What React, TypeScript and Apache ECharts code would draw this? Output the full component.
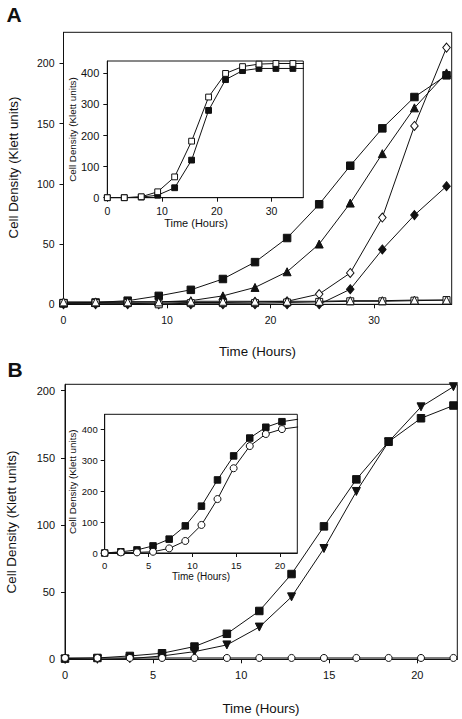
import React, { useEffect, useRef } from "react";
import * as echarts from "echarts";

// ---------- Panel A (main) ----------
const timeA = [0, 3.1, 6.2, 9.2, 12.3, 15.4, 18.5, 21.6, 24.7, 27.7, 30.8, 33.9, 37.0];
const aFilledSquare = [1, 1.5, 3, 7, 12, 21, 35, 55, 83, 115, 146, 172, 190];
const aFilledTriangle = [1, 1.5, 2, 2, 3, 7, 14, 27, 50, 84, 125, 163, 192];
const aOpenDiamond = [1, 1, 1, 1, 1.5, 1.5, 2, 2.5, 8.5, 26, 72, 148, 213];
const aFilledDiamond = [0, 0, 0, 0, 0, 0, 0, 0, 0, 12.5, 45.5, 74, 98];
const aOpenSquare = [1, 1, 1, 0, 1, 1, 1, 1.5, 2, 2.5, 2.5, 3, 3.5];
const aOpenTriangle = [2, 2, 2, 2, 2.5, 2.5, 2.5, 2.5, 2.5, 3, 3, 3.5, 3.5];

// ---------- Panel A (inset) ----------
const aInsetOpenSquare = [0, 0, 3, 19, 67, 182, 324, 400, 422, 430, 432, 432, 432];
const aInsetFilledSquare = [0, 0, 2, 8, 32, 121, 281, 380, 409, 416, 416, 416, 416];

// ---------- Panel B (main) ----------
const timeB = [0, 1.84, 3.68, 5.51, 7.35, 9.19, 11.03, 12.86, 14.7, 16.54, 18.37, 20.21, 22.05];
const bFilledSquare = [0.5, 1, 2.5, 4.5, 9.5, 19, 36, 63.5, 99, 134, 162, 179.5, 189];
const bInvTriangle = [0, 0, 0.5, 2.5, 5.7, 10.7, 24, 46.5, 82.5, 125, 162, 188, 203];
const bOpenCircle = [1, 1, 1, 1, 1, 1, 1, 1, 1, 1, 1, 1, 1];

// ---------- Panel B (inset) ----------
const bInsetFilledSquare = [0, 4, 10, 23, 45, 88, 152, 237, 315, 373, 408, 426, 434];
const bInsetOpenCircle = [0, 2, 2, 4, 15, 39, 91, 175, 275, 347, 386, 402, 409];

// ---------- Tick labels ----------
const ticksAx = [0, 10, 20, 30];
const ticksAy = [0, 50, 100, 150, 200];
const ticksAiy = [0, 100, 200, 300, 400];
const ticksBx = [0, 5, 10, 15, 20];
const ticksBy = [0, 50, 100, 150, 200];
const ticksBiy = [0, 100, 200, 300, 400];

const yTitle = "Cell Density (Klett units)";
const xTitle = "Time (Hours)";

const FONT = "'Liberation Sans', Arial, Helvetica, sans-serif";
const INK = "#111";

function zip(t: number[], v: number[]) {
  return v.map((y, i) => [t[i], y]);
}

function series(
  name: string,
  idx: number,
  t: number[],
  v: number[],
  symbol: string,
  size: number | number[],
  filled: boolean,
  rotate = 0
) {
  return {
    name,
    type: "line",
    xAxisIndex: idx,
    yAxisIndex: idx,
    data: zip(t, v),
    symbol,
    symbolSize: size,
    symbolRotate: rotate,
    showSymbol: true,
    clip: true,
    lineStyle: { color: INK, width: 1 },
    itemStyle: {
      color: filled ? INK : "#fff",
      borderColor: INK,
      borderWidth: 1,
    },
    emphasis: { disabled: true },
    z: 3,
  };
}

function xAxis(idx: number, max: number, ticks: number[], fontSize: number, margin: number) {
  return {
    type: "value",
    gridIndex: idx,
    min: 0,
    max,
    axisLine: { show: true, onZero: false, lineStyle: { color: INK, width: 1 } },
    axisTick: { show: true, length: 4, inside: false, customValues: ticks, lineStyle: { color: INK } },
    axisLabel: { customValues: ticks, fontSize, fontFamily: FONT, color: INK, margin },
    splitLine: { show: false },
  };
}

function yAxis(idx: number, max: number, ticks: number[], fontSize: number, margin: number) {
  return {
    type: "value",
    gridIndex: idx,
    min: 0,
    max,
    axisLine: { show: true, onZero: false, lineStyle: { color: INK, width: 1 } },
    axisTick: { show: true, length: 4, inside: false, customValues: ticks, lineStyle: { color: INK } },
    axisLabel: { customValues: ticks, fontSize, fontFamily: FONT, color: INK, margin },
    splitLine: { show: false },
  };
}

function label(text: string, x: number, y: number, fontSize: number, rotate = false, bold = false) {
  return {
    type: "text",
    x,
    y,
    rotation: rotate ? Math.PI / 2 : 0,
    z: 10,
    style: {
      text,
      fontSize,
      fontFamily: FONT,
      fontWeight: bold ? "bold" : "normal",
      fill: INK,
      align: "center",
      verticalAlign: "middle",
    },
  };
}

export default function App() {
  const ref = useRef<HTMLDivElement>(null);

  useEffect(() => {
    if (!ref.current) return;
    const chart = echarts.init(ref.current, undefined, { renderer: "svg" });
    const gridBase = { show: true, borderColor: INK, borderWidth: 1, backgroundColor: "#fff", containLabel: false };
    chart.setOption({
      animation: false,
      backgroundColor: "#fff",
      grid: [
        { ...gridBase, left: 63.5, top: 32.3, width: 388.2, height: 272 },
        { ...gridBase, left: 107.3, top: 61, width: 196, height: 136.7 },
        { ...gridBase, left: 65, top: 384.3, width: 392.3, height: 275 },
        { ...gridBase, left: 104.7, top: 414.3, width: 192.6, height: 138.7 },
      ],
      xAxis: [
        xAxis(0, 37.5, ticksAx, 10.5, 10),
        xAxis(1, 35.8, ticksAx, 10.5, 8),
        xAxis(2, 22.27, ticksBx, 11, 10),
        xAxis(3, 21.96, ticksBx, 9.5, 7.5),
      ],
      yAxis: [
        yAxis(0, 225.7, ticksAy, 10.5, 9),
        yAxis(1, 440, ticksAiy, 11, 8),
        yAxis(2, 204.8, ticksBy, 11, 10),
        yAxis(3, 450, ticksBiy, 9.5, 7),
      ],
      series: [
        series("A filled square", 0, timeA, aFilledSquare, "rect", 7.5, true),
        series("A filled triangle", 0, timeA, aFilledTriangle, "triangle", 8, true),
        series("A open diamond", 0, timeA, aOpenDiamond, "diamond", [7.5, 9], false),
        series("A filled diamond", 0, timeA, aFilledDiamond, "diamond", [7.5, 9], true),
        series("A open square", 0, timeA, aOpenSquare, "rect", 7, false),
        series("A open triangle", 0, timeA, aOpenTriangle, "triangle", 8, false),
        series("A inset filled square", 1, timeA, aInsetFilledSquare, "rect", 5.8, true),
        series("A inset open square", 1, timeA, aInsetOpenSquare, "rect", 5.8, false),
        series("B filled square", 2, timeB, bFilledSquare, "rect", 7.5, true),
        series("B inverted triangle", 2, timeB, bInvTriangle, "triangle", 8, true, 180),
        series("B open circle", 2, timeB, bOpenCircle, "circle", 7, false),
        series("B inset filled square", 3, timeB, bInsetFilledSquare, "rect", 6.5, true),
        series("B inset open circle", 3, timeB, bInsetOpenCircle, "circle", 7, false),
      ],
      graphic: [
        label("A", 14, 14.5, 21, false, true),
        label("B", 15, 369, 21, false, true),
        label(yTitle, 13, 167.5, 13.3, true),
        label(xTitle, 257.5, 351, 13.3),
        label(yTitle, 72.7, 129.5, 9.8, true),
        label(xTitle, 196, 222.8, 11),
        label(yTitle, 11.7, 522, 13.4, true),
        label(xTitle, 261, 708.3, 13.3),
        label(yTitle, 72, 481.7, 9.8, true),
        label(xTitle, 201, 576.5, 10),
      ],
    });
    return () => chart.dispose();
  }, []);

  return (
    <div
      ref={ref}
      style={{ position: "absolute", left: 0, top: 0, width: 462, height: 719, background: "#fff" }}
    />
  );
}
